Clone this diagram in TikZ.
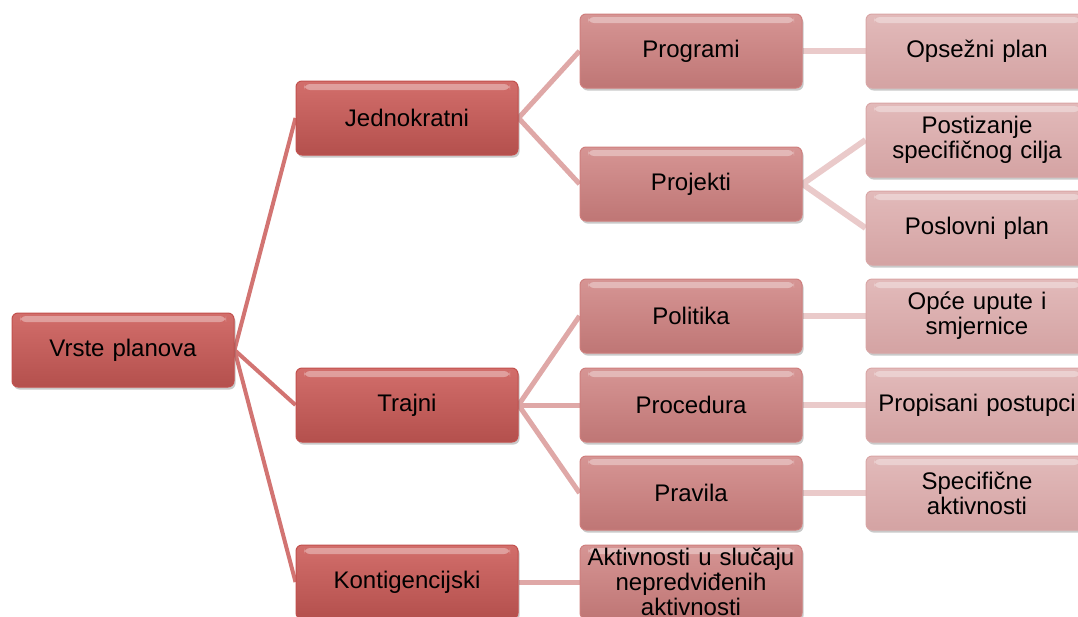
\documentclass[tikz,border=0pt]{standalone}
\usepackage{fontspec}
\setmainfont{Liberation Sans}
\usetikzlibrary{shadows,backgrounds}
\definecolor{aTop}{HTML}{D26E6B}
\definecolor{aBot}{HTML}{B4504D}
\definecolor{aDraw}{HTML}{C2504D}
\definecolor{bTop}{HTML}{D69594}
\definecolor{bBot}{HTML}{BF7675}
\definecolor{bDraw}{HTML}{CF7F7E}
\definecolor{cTop}{HTML}{E2BABA}
\definecolor{cBot}{HTML}{D4A3A3}
\definecolor{cDraw}{HTML}{D9A6A6}
\definecolor{lnA}{HTML}{D27472}
\definecolor{lnB}{HTML}{DFA8A7}
\definecolor{lnC}{HTML}{EACACA}
\begin{document}
\begin{tikzpicture}[x=1pt,y=1pt,
  box/.style={rounded corners=6pt, minimum width=222pt, minimum height=74pt,
    text width=218pt, align=center, inner sep=0pt, line width=1pt,
    font=\fontsize{24}{25}\selectfont,
    drop shadow={shadow xshift=1.5pt, shadow yshift=-2.5pt, opacity=0.3, fill=black!70},
    path picture={
      \fill[white,opacity=0.35] ([xshift=8pt,yshift=-3pt]path picture bounding box.north west)
        rectangle ([xshift=-8pt,yshift=-9pt]path picture bounding box.north east);
    }},
  lvA/.style={box, top color=aTop, bottom color=aBot, draw=aDraw},
  lvB/.style={box, top color=bTop, bottom color=bBot, draw=bDraw},
  lvC/.style={box, top color=cTop, bottom color=cBot, draw=cDraw},
  conA/.style={draw=lnA, line width=4pt},
  conB/.style={draw=lnB, line width=5pt},
  conC/.style={draw=lnC, line width=6pt}
]
\useasboundingbox (0,0) rectangle (1078,-616);

\node[lvA] (root) at (123,-350) {Vrste planova};

\node[lvA] (jed) at (407,-118) {Jednokratni};
\node[lvA] (tra) at (407,-405) {Trajni};
\node[lvA] (kon) at (407,-582) {Kontigencijski};

\node[lvB] (pro) at (691,-51) {Programi};
\node[lvB] (prj) at (691,-184) {Projekti};
\node[lvB] (pol) at (691,-316) {Politika};
\node[lvB] (prc) at (691,-405) {Procedura};
\node[lvB] (prv) at (691,-493) {Pravila};
\node[lvB] (akt) at (691,-582) {Aktivnosti u slučaju\\nepredviđenih\\aktivnosti};

\node[lvC] (ops) at (977,-51) {Opsežni plan};
\node[lvC] (pos) at (977,-140) {Postizanje\\specifičnog cilja};
\node[lvC] (psl) at (977,-228) {Poslovni plan};
\node[lvC] (opc) at (977,-316) {Opće upute i\\smjernice};
\node[lvC] (prp) at (977,-405) {Propisani postupci};
\node[lvC] (spe) at (977,-493) {Specifične\\aktivnosti};

\begin{pgfonlayer}{background}
\draw[conA] (root.east) -- (jed.west);
\draw[conA] (root.east) -- (tra.west);
\draw[conA] (root.east) -- (kon.west);
\draw[conB] (jed.east) -- (pro.west);
\draw[conB] (jed.east) -- (prj.west);
\draw[conB] (tra.east) -- (pol.west);
\draw[conB] (tra.east) -- (prc.west);
\draw[conB] (tra.east) -- (prv.west);
\draw[conB] (kon.east) -- (akt.west);
\draw[conC] (pro.east) -- (ops.west);
\draw[conC] (prj.east) -- (pos.west);
\draw[conC] (prj.east) -- (psl.west);
\draw[conC] (pol.east) -- (opc.west);
\draw[conC] (prc.east) -- (prp.west);
\draw[conC] (prv.east) -- (spe.west);
\end{pgfonlayer}
\end{tikzpicture}
\end{document}
